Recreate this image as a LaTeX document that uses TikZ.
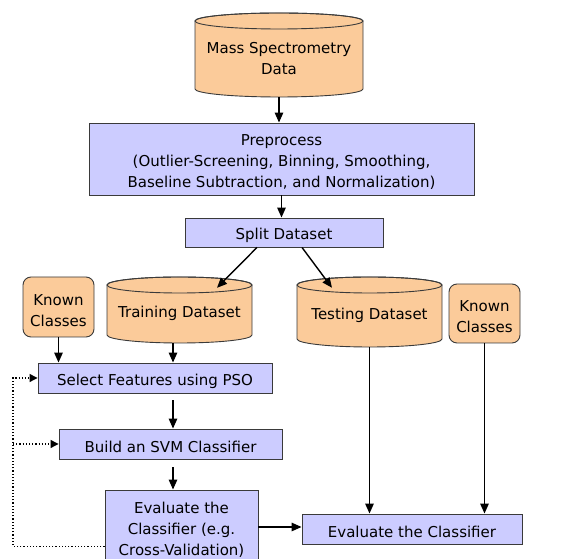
\documentclass[tikz,border=0pt]{standalone}
\usepackage{fontspec}
\setmainfont{DejaVu Sans}
\usetikzlibrary{arrows.meta,calc}
\definecolor{peach}{HTML}{FBCB9A}
\definecolor{lav}{HTML}{CCCCFF}
\definecolor{edgec}{HTML}{3A3A3A}
\newcommand{\diagfont}{\fontsize{15}{21}\selectfont}
\newcommand{\dn}{\rule{0pt}{17.5pt}}
\newcommand{\mycyl}[5]{%
  \pgfmathsetmacro{\cxa}{#1}\pgfmathsetmacro{\cxb}{#2}%
  \pgfmathsetmacro{\cyt}{#3-#5}\pgfmathsetmacro{\cyb}{#4+#5}%
  \pgfmathsetmacro{\crx}{(#2-#1)/2}\pgfmathsetmacro{\cxc}{(#1+#2)/2}%
  \filldraw[cylbody] (\cxa,\cyt) -- (\cxa,\cyb) arc[start angle=180,end angle=360,x radius=\crx,y radius=#5]
     -- (\cxb,\cyt) arc[start angle=0,end angle=180,x radius=\crx,y radius=#5] -- cycle;
  \draw[cylbody,fill=none] (\cxc,\cyt) ellipse[x radius=\crx,y radius=#5];}
\tikzset{
  proc/.style={draw=edgec, fill=lav, line width=0.9pt, align=center, inner sep=0pt, font=\diagfont},
  known/.style={draw=edgec, fill=peach, rounded corners=8pt, line width=0.9pt, align=center, inner sep=0pt, font=\diagfont},
  cyltext/.style={inner sep=0pt, align=center, font=\diagfont},
  cylbody/.style={fill=peach, draw=edgec, line width=0.9pt},
  flow/.style={-{Triangle[length=10pt,width=8.5pt]}, line width=1.4pt},
  fb/.style={dotted, line width=1.2pt, -{Triangle[length=8pt,width=8pt]}}
}
\begin{document}
\begin{tikzpicture}[x=1pt,y=1pt]
\useasboundingbox (0,0) rectangle (579,559);
\clip (0,0) rectangle (579,559);
% cylinders
\mycyl{195}{363}{546}{462}{8}
\mycyl{107}{252}{282}{216}{8}
\mycyl{297}{442}{282}{212}{8}
\node[cyltext, minimum width=168pt, minimum height=84pt] (ms) at (279,504) {\dn Mass Spectrometry\\Data};
\node[cyltext, minimum width=145pt, minimum height=66pt] (tr) at (179.5,249) {\dn Training Dataset};
\node[cyltext, minimum width=145pt, minimum height=70pt] (te) at (369.5,247) {\dn Testing Dataset};
% boxes
\node[proc, minimum width=385pt, minimum height=72pt] (pre) at (281.5,400) {\dn Preprocess\\(Outlier-Screening, Binning, Smoothing,\\Baseline Subtraction, and Normalization)};
\node[proc, minimum width=198pt, minimum height=29pt] (split) at (284,326.5) {\dn Split Dataset};
\node[known, minimum width=71pt, minimum height=60pt] (kl) at (58.5,252) {\dn Known\\Classes};
\node[known, minimum width=71pt, minimum height=59pt] (kr) at (484.5,245.5) {\dn Known\\Classes};
\node[proc, minimum width=234pt, minimum height=30pt] (sel) at (155,181) {\dn Select Features using PSO};
\node[proc, minimum width=223pt, minimum height=30pt] (svm) at (170.5,115) {\dn Build an SVM Classifier};
\node[proc, minimum width=153pt, minimum height=74pt] (evl) at (181.5,32) {\dn Evaluate the\\Classifier (e.g.\\Cross-Validation)};
\node[proc, minimum width=220pt, minimum height=30pt] (evr) at (412,30) {\dn Evaluate the Classifier};
% helper columns
\coordinate (colL) at (173,0);
\coordinate (fbx) at (13,0);
% arrows
\draw[flow] (ms.south) -- (ms.south |- pre.north);
\draw[flow] (pre.south) -- (pre.south |- split.north);
\draw[flow] ($(split.south)+(-27,0)$) -- ($(tr.north)+(37.5,-11)$);
\draw[flow] ($(split.south)+(18,0)$) -- ($(te.north)+(-37.5,-11)$);
\draw[flow] (kl.south) -- (kl.south |- sel.north);
\draw[flow] (tr.south -| colL) -- (sel.north -| colL);
\draw[flow] ($(sel.south -| colL)+(0,-7)$) -- (svm.north -| colL);
\draw[flow] ($(svm.south -| colL)+(0,-8)$) -- (evl.north -| colL);
\draw[flow] (evl.east) -- (evl.east -| evr.west);
\draw[flow] (te.south) -- (te.south |- evr.north);
\draw[flow] (kr.south) -- (kr.south |- evr.north);
% feedback
\coordinate (fbs) at ($(evl.south west)+(0,18)$);
\draw[fb] (fbs) -- (fbs -| fbx) -- (fbx |- sel.west) -- (sel.west);
\draw[fb] (fbx |- svm.west) -- (svm.west);
\end{tikzpicture}
\end{document}
